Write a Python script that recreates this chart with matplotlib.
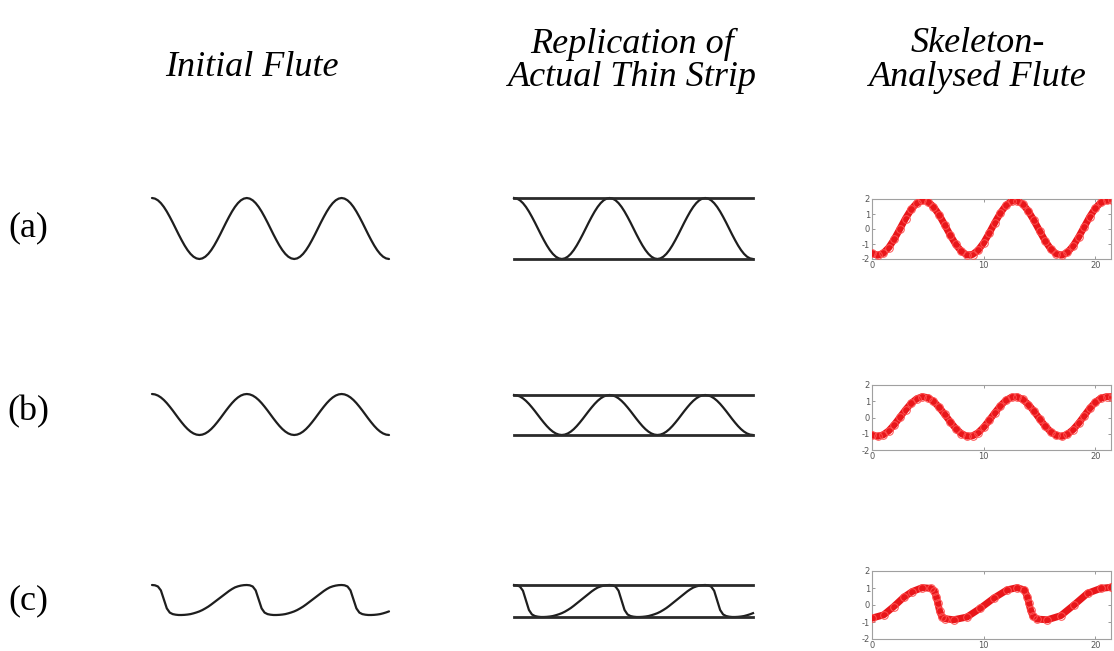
import numpy as np
import matplotlib
matplotlib.use("Agg")
import matplotlib.pyplot as plt

plt.rcParams["axes.unicode_minus"] = False

# ---------------- data ----------------
col_titles = [["Initial Flute"], ["Replication of", "Actual Thin Strip"], ["Skeleton-", "Analysed Flute"]]
row_labels = ["(a)", "(b)", "(c)"]

# normalised flute profile height (1 = crest, 0 = trough), read every 1/32 flute pitch over 2.5 pitches
profile_a = [1.0, 0.990, 0.962, 0.916, 0.854, 0.778, 0.691, 0.598, 0.5, 0.402, 0.309, 0.222, 0.146, 0.084, 0.038, 0.010,
             0.0, 0.010, 0.038, 0.084, 0.146, 0.222, 0.309, 0.402, 0.5, 0.598, 0.691, 0.778, 0.854, 0.916, 0.962, 0.990,
             1.0, 0.990, 0.962, 0.916, 0.854, 0.778, 0.691, 0.598, 0.5, 0.402, 0.309, 0.222, 0.146, 0.084, 0.038, 0.010,
             0.0, 0.010, 0.038, 0.084, 0.146, 0.222, 0.309, 0.402, 0.5, 0.598, 0.691, 0.778, 0.854, 0.916, 0.962, 0.990,
             1.0, 0.990, 0.962, 0.916, 0.854, 0.778, 0.691, 0.598, 0.5, 0.402, 0.309, 0.222, 0.146, 0.084, 0.038, 0.010,
             0.0]
profile_b = [1.0, 0.990, 0.962, 0.916, 0.854, 0.778, 0.691, 0.598, 0.5, 0.402, 0.309, 0.222, 0.146, 0.084, 0.038, 0.010,
             0.0, 0.010, 0.038, 0.084, 0.146, 0.222, 0.309, 0.402, 0.5, 0.598, 0.691, 0.778, 0.854, 0.916, 0.962, 0.990,
             1.0, 0.990, 0.962, 0.916, 0.854, 0.778, 0.691, 0.598, 0.5, 0.402, 0.309, 0.222, 0.146, 0.084, 0.038, 0.010,
             0.0, 0.010, 0.038, 0.084, 0.146, 0.222, 0.309, 0.402, 0.5, 0.598, 0.691, 0.778, 0.854, 0.916, 0.962, 0.990,
             1.0, 0.990, 0.962, 0.916, 0.854, 0.778, 0.691, 0.598, 0.5, 0.402, 0.309, 0.222, 0.146, 0.084, 0.038, 0.010,
             0.0]
profile_c = [1.0, 0.99, 0.95, 0.82, 0.52, 0.22, 0.08, 0.03, 0.01, 0.0, 0.0, 0.005, 0.015, 0.03, 0.055, 0.085,
             0.12, 0.165, 0.22, 0.28, 0.35, 0.425, 0.5, 0.575, 0.65, 0.725, 0.8, 0.865, 0.92, 0.955, 0.98, 0.995,
             1.0, 0.99, 0.95, 0.82, 0.52, 0.22, 0.08, 0.03, 0.01, 0.0, 0.0, 0.005, 0.015, 0.03, 0.055, 0.085,
             0.12, 0.165, 0.22, 0.28, 0.35, 0.425, 0.5, 0.575, 0.65, 0.725, 0.8, 0.865, 0.92, 0.955, 0.98, 0.995,
             1.0, 0.99, 0.95, 0.82, 0.52, 0.22, 0.08, 0.03, 0.01, 0.0, 0.0, 0.005, 0.015, 0.03, 0.055, 0.085,
             0.12]

# skeleton-analysed flute (red)
skel_a_y = [-1.62, -1.75, -1.62, -1.24, -0.67, 0.01, 0.70, 1.30, 1.72, 1.90, 1.83, 1.49, 0.96, 0.29, -0.40, -1.03,
            -1.49, -1.73, -1.70, -1.42, -0.92, -0.27, 0.43, 1.07, 1.58, 1.86, 1.89, 1.66, 1.19, 0.57, -0.12, -0.79,
            -1.33, -1.66, -1.74, -1.56, -1.14, -0.54, 0.14, 0.82, 1.39, 1.77, 1.91, 1.90]
skel_b_y = [-1.07, -1.16, -1.07, -0.82, -0.44, 0.01, 0.47, 0.87, 1.15, 1.28, 1.22, 1.00, 0.64, 0.20, -0.26, -0.68,
            -0.99, -1.15, -1.13, -0.94, -0.60, -0.17, 0.29, 0.72, 1.06, 1.25, 1.27, 1.11, 0.80, 0.39, -0.08, -0.52,
            -0.88, -1.10, -1.16, -1.03, -0.75, -0.36, 0.10, 0.56, 0.94, 1.19, 1.28, 1.28]
skel_c_x = [0, 1.05, 1.95, 2.85, 3.6, 4.5, 5.25, 5.55, 5.75, 5.9, 6.05, 6.25, 6.5, 7.3, 8.5, 9.7, 10.9, 12.1, 13.0,
            13.65, 13.9, 14.05, 14.2, 14.4, 14.8, 15.7, 16.9, 18.1, 19.3, 20.5, 21.4]
skel_c_y = [-0.77, -0.58, -0.09, 0.46, 0.79, 1.02, 0.98, 0.85, 0.5, 0.1, -0.35, -0.68, -0.80, -0.87, -0.71, -0.19,
            0.40, 0.89, 1.02, 0.88, 0.5, 0.1, -0.3, -0.65, -0.83, -0.87, -0.63, 0.01, 0.69, 0.98, 1.04]
skel_xticks = [0, 10, 20]
skel_yticks = [-2, -1, 0, 1, 2]

# ---------------- layout ----------------
W, H = 1114, 651
fig = plt.figure(figsize=(W / 100, H / 100), dpi=100)
fig.patch.set_facecolor("white")


def box(l, r, t, b):
    return [l / W, 1 - b / H, (r - l) / W, (b - t) / H]


serif = ["Liberation Serif", "DejaVu Serif"]
title_fs = 26
label_fs = 26

fig.text(252 / W, 1 - 68 / H, col_titles[0][0], ha="center", va="center", fontsize=title_fs,
         family=serif, style="italic")
fig.text(632 / W, 1 - 44 / H, col_titles[1][0], ha="center", va="center", fontsize=title_fs,
         family=serif, style="italic")
fig.text(632 / W, 1 - 77 / H, col_titles[1][1], ha="center", va="center", fontsize=title_fs,
         family=serif, style="italic")
fig.text(978 / W, 1 - 44 / H, col_titles[2][0], ha="center", va="center", fontsize=title_fs,
         family=serif, style="italic")
fig.text(978 / W, 1 - 77 / H, col_titles[2][1], ha="center", va="center", fontsize=title_fs,
         family=serif, style="italic")

profiles = [profile_a, profile_b, profile_c]
row_centres = [228, 412, 601]
col1_boxes = [(152, 389, 198, 259), (152, 389, 394, 435), (152, 389, 585, 615)]
col2_boxes = [(514, 753, 198, 259), (514, 753, 395, 435), (514, 753, 585, 617)]
skel_boxes = [(872, 1111, 199, 259), (872, 1111, 385, 450), (872, 1111, 571, 639)]
skel_data = [(np.linspace(0, 21.5, len(skel_a_y)), skel_a_y),
             (np.linspace(0, 21.5, len(skel_b_y)), skel_b_y),
             (skel_c_x, skel_c_y)]

for i in range(3):
    fig.text(28 / W, 1 - row_centres[i] / H, row_labels[i], ha="center", va="center",
             fontsize=label_fs, family=serif)

    prof = profiles[i]
    t = np.linspace(0, 2.5, len(prof))

    ax = fig.add_axes(box(*col1_boxes[i]))
    ax.plot(t, prof, color="#1e1e1e", lw=1.6, clip_on=False, solid_capstyle="round",
            solid_joinstyle="round")
    ax.set_xlim(0, 2.5)
    ax.set_ylim(0, 1)
    ax.axis("off")

    ax = fig.add_axes(box(*col2_boxes[i]))
    ax.plot(t, prof, color="#1e1e1e", lw=1.6, clip_on=False, solid_joinstyle="round")
    ax.axhline(1, color="#2a2a2a", lw=2.0, clip_on=False)
    ax.axhline(0, color="#2a2a2a", lw=2.0, clip_on=False)
    ax.set_xlim(0, 2.5)
    ax.set_ylim(0, 1)
    ax.axis("off")

    ax = fig.add_axes(box(*skel_boxes[i]))
    sx, sy = skel_data[i]
    ax.plot(sx, sy, color="#e8161a", lw=5.0, solid_joinstyle="round", solid_capstyle="round", zorder=3)
    ax.plot(sx, sy, linestyle="none", marker="o", ms=5.5, mfc="none", mec="#ff5050", mew=0.7, zorder=4)
    ax.set_xlim(0, 21.4)
    ax.set_ylim(-2, 2)
    ax.set_xticks(skel_xticks)
    ax.set_yticks(skel_yticks)
    for s in ax.spines.values():
        s.set_color("#a0a0a0")
        s.set_linewidth(0.8)
    ax.tick_params(direction="in", length=2, width=0.6, color="#888888", labelsize=6,
                   labelcolor="#555555", pad=1.5, top=True, right=True)
    ax.set_facecolor("white")

fig.savefig("out.png", dpi=100, facecolor="white")
